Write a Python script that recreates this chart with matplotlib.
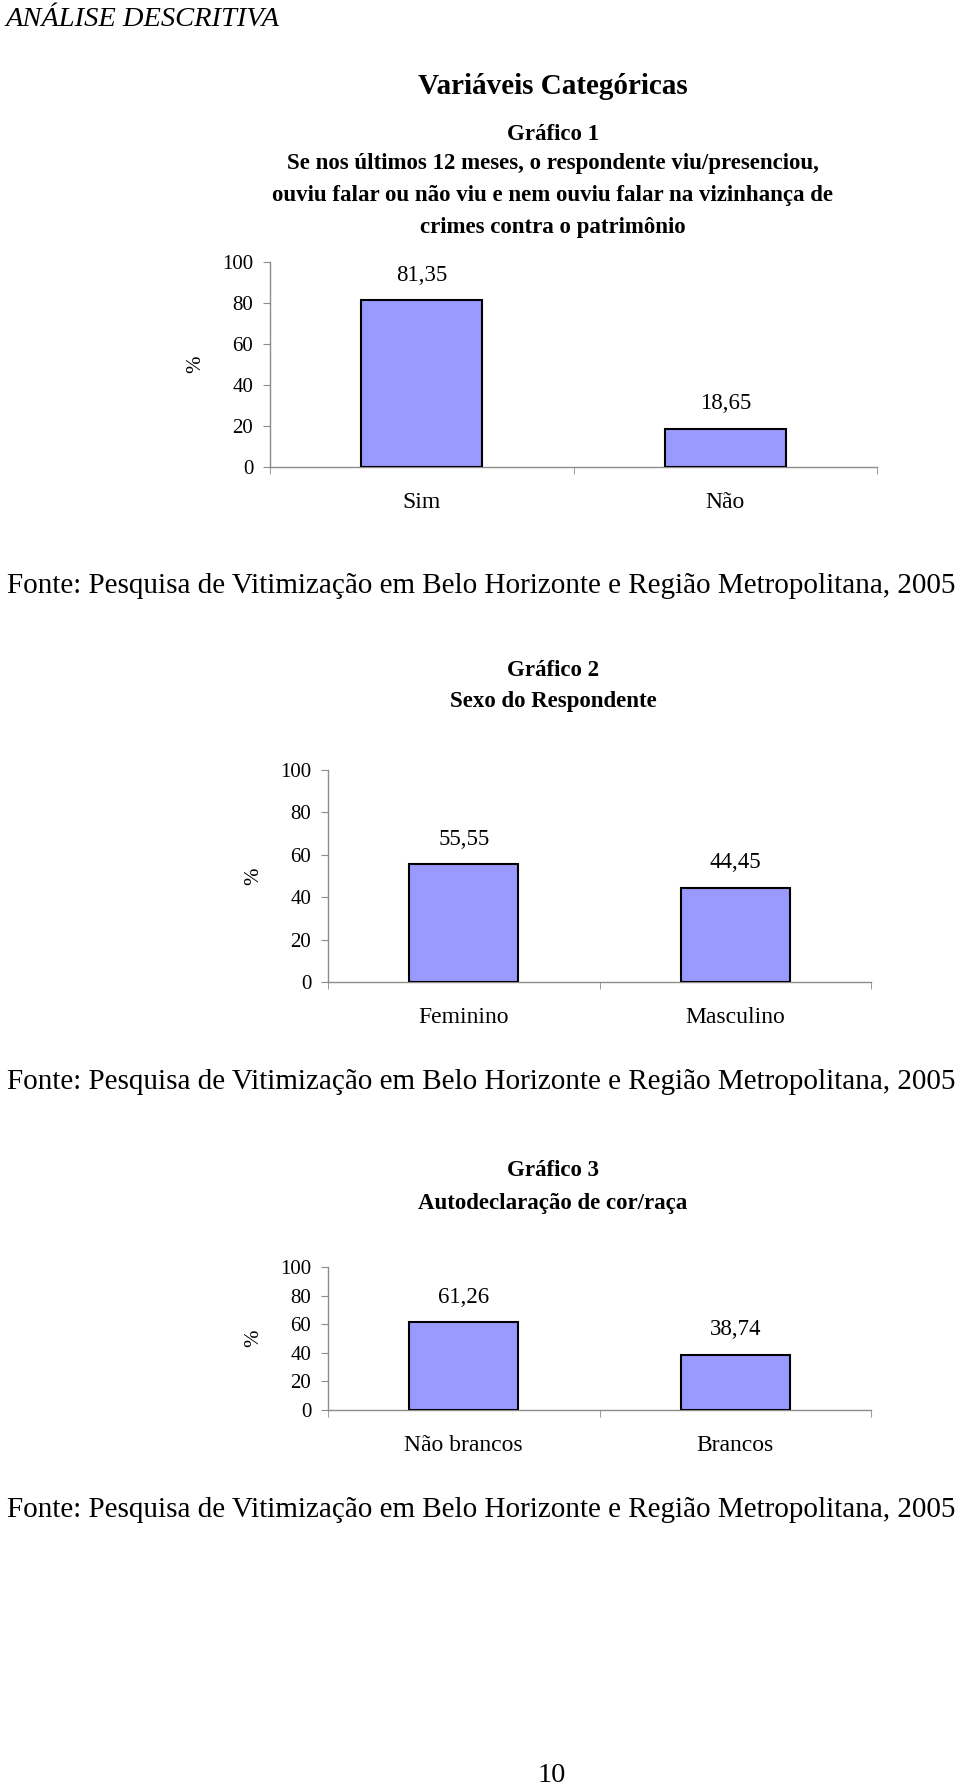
import matplotlib.pyplot as plt
import numpy as np

plt.rcParams["font.family"] = ["Liberation Serif", "DejaVu Serif"]

# data
crime_cats = ["Sim", "Não"]
crime_vals = [81.35, 18.65]
sexo_cats = ["Feminino", "Masculino"]
sexo_vals = [55.55, 44.45]
cor_cats = ["Não brancos", "Brancos"]
cor_vals = [61.26, 38.74]
yticks = [0, 20, 40, 60, 80, 100]

FONTE = "Fonte: Pesquisa de Vitimização em Belo Horizonte e Região Metropolitana, 2005"
W, H = 960, 1789
BAR_COLOR = "#9999FF"
GRAY = "#8c8c8c"
TITLE_FS = 16.5

fig = plt.figure(figsize=(W / 100, H / 100), dpi=100)


def py(y):
    return 1 - y / H


def px(x):
    return x / W


def bar_chart(rect, cats, vals):
    ax = fig.add_axes(rect)
    x = np.arange(len(cats))
    ax.bar(x, vals, width=0.4, color=BAR_COLOR, edgecolor="black", linewidth=1.5, zorder=3)
    for xi, v in zip(x, vals):
        ax.annotate(f"{v:.2f}".replace(".", ","), (xi, v), xytext=(0, 18),
                    textcoords="offset points", ha="center", va="center", fontsize=16.5)
    ax.set_xlim(-0.5, len(cats) - 0.5)
    ax.set_ylim(0, 100)
    ax.set_yticks(yticks)
    ax.set_xticks(x)
    ax.set_xticklabels(cats, fontsize=17)
    ax.set_xticks(np.arange(len(cats) + 1) - 0.5, minor=True)
    ax.tick_params(axis="x", which="major", length=0, pad=18)
    ax.tick_params(axis="x", which="minor", length=5, color=GRAY, direction="out")
    ax.tick_params(axis="y", length=5, color=GRAY, labelsize=15, pad=7)
    for s in ["top", "right"]:
        ax.spines[s].set_visible(False)
    for s in ["left", "bottom"]:
        ax.spines[s].set_color(GRAY)
        ax.spines[s].set_linewidth(1)
    ax.set_ylabel("%", fontsize=15, labelpad=12)
    return ax


# page header
fig.text(px(6), py(19), "ANÁLISE DESCRITIVA", fontsize=20.5, style="italic", va="center", ha="left")
fig.text(px(553), py(87), "Variáveis Categóricas", fontsize=21, weight="bold", ha="center", va="center")

# grafico 1
fig.text(px(553), py(134), "Gráfico 1", fontsize=TITLE_FS, weight="bold", ha="center", va="center")
sub1 = ["Se nos últimos 12 meses, o respondente viu/presenciou,",
        "ouviu falar ou não viu e nem ouviu falar na vizinhança de",
        "crimes contra o patrimônio"]
for i, line in enumerate(sub1):
    fig.text(px(553), py(163 + 32 * i), line, fontsize=TITLE_FS, weight="bold", ha="center", va="center")
bar_chart([px(270), py(467), px(607), 205 / H], crime_cats, crime_vals)
fig.text(px(481), py(586), FONTE, fontsize=21, ha="center", va="center")

# grafico 2
fig.text(px(553), py(670), "Gráfico 2", fontsize=TITLE_FS, weight="bold", ha="center", va="center")
fig.text(px(553), py(702), "Sexo do Respondente", fontsize=TITLE_FS, weight="bold", ha="center", va="center")
bar_chart([px(328), py(982), px(543), 212 / H], sexo_cats, sexo_vals)
fig.text(px(481), py(1082), FONTE, fontsize=21, ha="center", va="center")

# grafico 3
fig.text(px(553), py(1171), "Gráfico 3", fontsize=TITLE_FS, weight="bold", ha="center", va="center")
fig.text(px(553), py(1203), "Autodeclaração de cor/raça", fontsize=TITLE_FS, weight="bold", ha="center", va="center")
bar_chart([px(328), py(1410), px(543), 143 / H], cor_cats, cor_vals)
fig.text(px(481), py(1510), FONTE, fontsize=21, ha="center", va="center")

fig.text(px(552), py(1776), "10", fontsize=20.5, ha="center", va="center")

fig.savefig("out.png", dpi=100)
